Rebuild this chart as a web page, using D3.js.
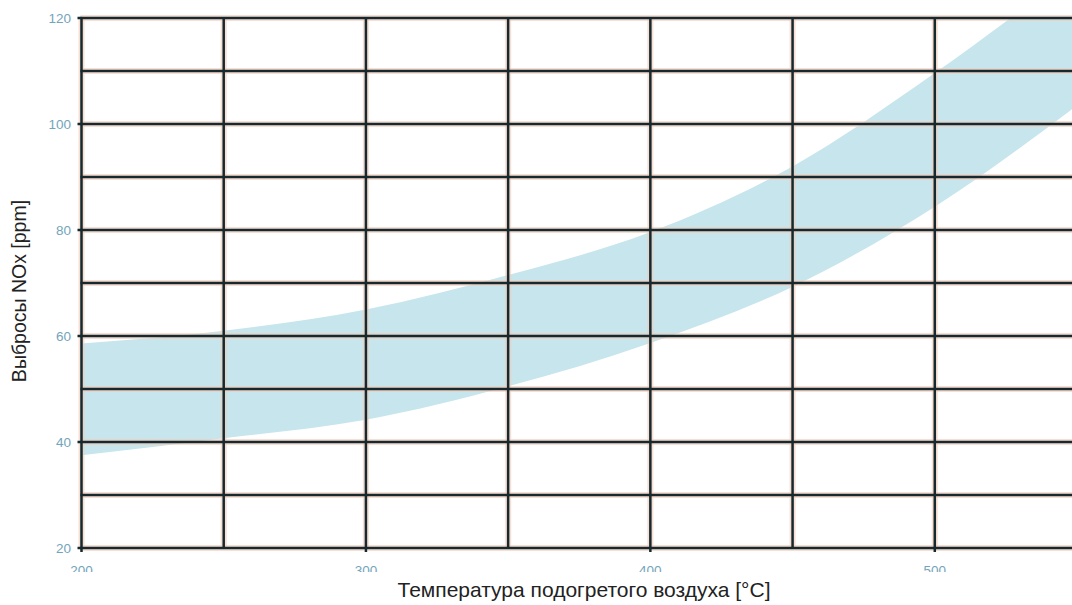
<!DOCTYPE html>
<html lang="ru">
<head>
<meta charset="UTF-8">
<title>NOx</title>
<script src="https://cdn.jsdelivr.net/npm/d3@7"></script>
<style>
  body { margin: 0; background: #fff; }
  svg { display: block; font-family: "Liberation Sans", Arial, sans-serif; }
  .tick-lbl { fill: #73a4ba; font-size: 13.5px; }
</style>
</head>
<body>
<script>
// temperature of preheated air, °C
const temps = [200, 250, 300, 350, 400, 450, 500, 550];
// band edges, NOx ppm
const upperNox = [58.6, 61.0, 65.0, 71.5, 79.6, 92.0, 109.6, 129.5];
const lowerNox = [37.5, 40.7, 44.2, 50.5, 58.7, 69.3, 84.4, 103.5];

const xTickLabels = [200, 300, 400, 500];
const yTickLabels = [20, 40, 60, 80, 100, 120];
const xGrid = [200, 250, 300, 350, 400, 450, 500];
const yGrid = [20, 30, 40, 50, 60, 70, 80, 90, 100, 110, 120];

const W = 1072, H = 605;
const svg = d3.select("body").append("svg").attr("width", W).attr("height", H);

const x = d3.scaleLinear().domain([200, 550]).range([81.5, 1077]);
const y = d3.scaleLinear().domain([20, 120]).range([548, 18]);

const data = temps.map((t, i) => ({t: t, lo: lowerNox[i], hi: upperNox[i]}));

const defs = svg.append("defs");
defs.append("clipPath").attr("id", "plot")
  .append("rect").attr("x", x(200)).attr("y", y(120)).attr("width", W - x(200)).attr("height", y(20) - y(120));
// bottom labels are cut off in the original
defs.append("clipPath").attr("id", "xlab")
  .append("rect").attr("x", 0).attr("y", 555).attr("width", W).attr("height", 17);

// band
const area = d3.area()
  .x(d => x(d.t))
  .y0(d => y(d.lo))
  .y1(d => y(d.hi))
  .curve(d3.curveMonotoneX);

svg.append("path")
  .attr("clip-path", "url(#plot)")
  .attr("d", area(data))
  .attr("fill", "#c6e5ec");

// grid: soft orange halo then dark core
const grid = svg.append("g");
[["#f5cbb8", 6, 0.6], ["#15292e", 2.5, 1]].forEach(([col, w, op]) => {
  grid.append("g").attr("opacity", op).selectAll("line").data(yGrid).join("line")
    .attr("x1", x(200) - 1).attr("x2", W)
    .attr("y1", d => y(d)).attr("y2", d => y(d))
    .attr("stroke", col).attr("stroke-width", w);
  grid.append("g").attr("opacity", op).selectAll("line").data(xGrid).join("line")
    .attr("x1", d => x(d)).attr("x2", d => x(d))
    .attr("y1", y(120) - 1).attr("y2", y(20) + 1)
    .attr("stroke", col).attr("stroke-width", w);
});

// small tick marks
svg.append("g").selectAll("line").data(yTickLabels).join("line")
  .attr("x1", x(200) - 4).attr("x2", x(200))
  .attr("y1", d => y(d)).attr("y2", d => y(d))
  .attr("stroke", "#15292e").attr("stroke-width", 2.5);
svg.append("g").selectAll("line").data(xTickLabels).join("line")
  .attr("x1", d => x(d)).attr("x2", d => x(d))
  .attr("y1", y(20)).attr("y2", y(20) + 4)
  .attr("stroke", "#15292e").attr("stroke-width", 2.5);

// tick labels
svg.append("g").selectAll("text").data(yTickLabels).join("text")
  .attr("class", "tick-lbl")
  .attr("x", 71).attr("y", d => y(d)).attr("dy", "0.35em")
  .attr("text-anchor", "end")
  .text(d => d);

svg.append("g").attr("clip-path", "url(#xlab)")
  .selectAll("text").data(xTickLabels).join("text")
  .attr("class", "tick-lbl")
  .attr("x", d => x(d)).attr("y", 575)
  .attr("text-anchor", "middle")
  .text(d => d);

// axis titles
svg.append("text")
  .attr("x", 584).attr("y", 597)
  .attr("text-anchor", "middle")
  .attr("fill", "#222")
  .style("font-size", "21px")
  .text("Температура подогретого воздуха [°C]");

svg.append("text")
  .attr("transform", "translate(26,291) rotate(-90)")
  .attr("text-anchor", "middle")
  .attr("fill", "#222")
  .style("font-size", "19.5px")
  .text("Выбросы NOx [ppm]");
</script>
</body>
</html>
